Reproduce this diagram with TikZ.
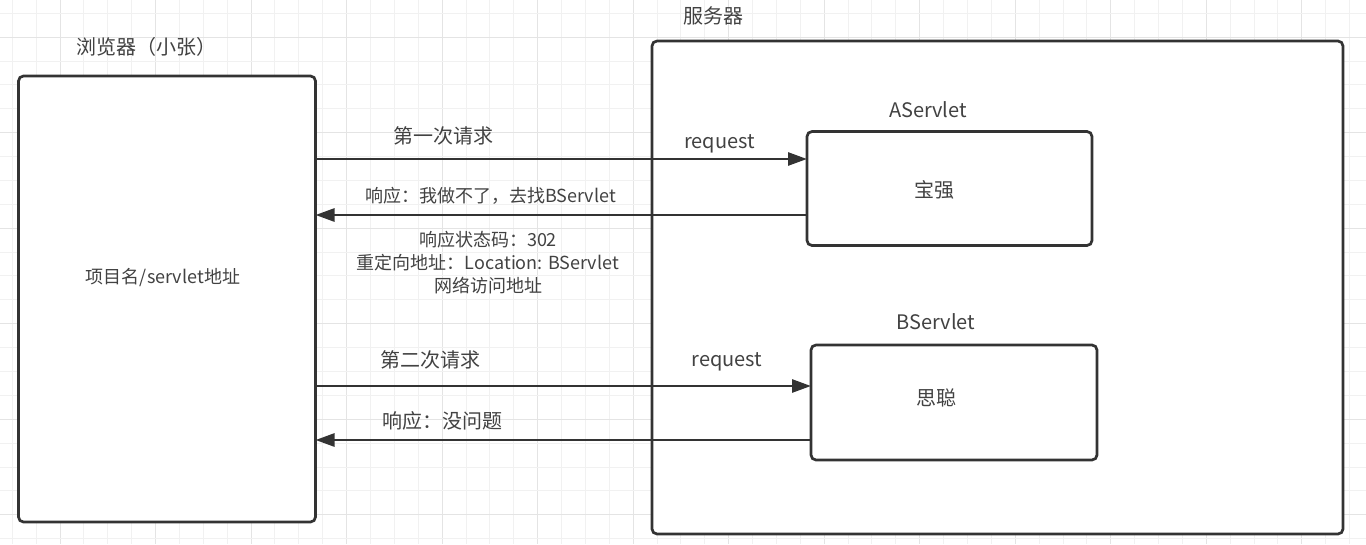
\documentclass[tikz,border=0pt]{standalone}
\usepackage{fontspec}
\setmainfont{Noto Sans CJK SC}
\usetikzlibrary{arrows.meta}
\definecolor{ink}{HTML}{333333}
\definecolor{txt}{HTML}{424242}
\definecolor{gridminor}{HTML}{F1F1F1}
\definecolor{gridmajor}{HTML}{E4E4E4}
\begin{document}
\begin{tikzpicture}[x=1pt,y=-1pt,
  box/.style={draw=ink, line width=2.7pt, fill=white, rounded corners=5pt, outer sep=0pt, inner sep=0pt},
  lbl/.style={text=txt, font=\fontsize{20}{24}\selectfont, inner sep=0pt},
  slbl/.style={text=txt, font=\fontsize{18}{23}\selectfont, inner sep=0pt, align=center},
  arr/.style={draw=ink, line width=2.7pt, -{Triangle[length=19pt,width=13pt]}}
]
\useasboundingbox[fill=white] (0,0) rectangle (1366,544);
% grid
\foreach \i in {0,...,57}{
  \pgfmathsetmacro{\gx}{12.3+\i*23.88}
  \pgfmathtruncatemacro{\m}{mod(\i,4)}
  \ifnum\m=2
    \draw[gridmajor, line width=1pt] (\gx,0) -- (\gx,544);
  \else
    \draw[gridminor, line width=1pt] (\gx,0) -- (\gx,544);
  \fi
}
\foreach \j in {0,...,22}{
  \pgfmathsetmacro{\gy}{13.3+\j*23.88}
  \pgfmathtruncatemacro{\m}{mod(\j,4)}
  \ifnum\m=1
    \draw[gridmajor, line width=1pt] (0,\gy) -- (1366,\gy);
  \else
    \draw[gridminor, line width=1pt] (0,\gy) -- (1366,\gy);
  \fi
}
% boxes
\node[box, minimum width=297pt, minimum height=446pt] (br) at (167,299) {};
\node[box, minimum width=691pt, minimum height=493pt] (srv) at (997.5,287.5) {};
\node[box, minimum width=285pt, minimum height=114pt] (A) at (949.5,188.5) {};
\node[box, minimum width=286pt, minimum height=115pt] (B) at (954,402.5) {};
% titles
\node[lbl] (brt) at (146,47) {浏览器（小张）};
\node[lbl] (srvt) at (713.5,16) {服务器};
\node[lbl] (At) at (928,110) {AServlet};
\node[lbl] (Bt) at (936,322) {BServlet};
\node[slbl] (brin) at (163,278) {项目名/servlet地址};
\node[lbl] (Ain) at (934.5,190) {宝强};
\node[lbl] (Bin) at (936,398) {思聪};
% connectors
\coordinate (a1) at ([yshift=29.5pt]A.west);
\coordinate (a2) at ([yshift=-26.5pt]A.west);
\coordinate (b1) at ([yshift=16.5pt]B.west);
\coordinate (b2) at ([yshift=-37.5pt]B.west);
\draw[arr] (br.east |- a1) -- (a1);
\draw[arr] (a2) -- (br.east |- a2);
\draw[arr] (br.east |- b1) -- (b1);
\draw[arr] (b2) -- (br.east |- b2);
% connector labels
\node[lbl] (l1) at (443,136) {第一次请求};
\node[lbl] (r1) at (719.5,144) {request};
\node[slbl] (l2) at (490.5,196) {响应：我做不了，去找BServlet};
\node[slbl] (l3) at (488,263) {响应状态码：302\\重定向地址：Location: BServlet\\网络访问地址};
\node[lbl] (l4) at (430.5,360) {第二次请求};
\node[lbl] (r2) at (727,362) {request};
\node[lbl] (l5) at (442,421) {响应：没问题};
\end{tikzpicture}
\end{document}
